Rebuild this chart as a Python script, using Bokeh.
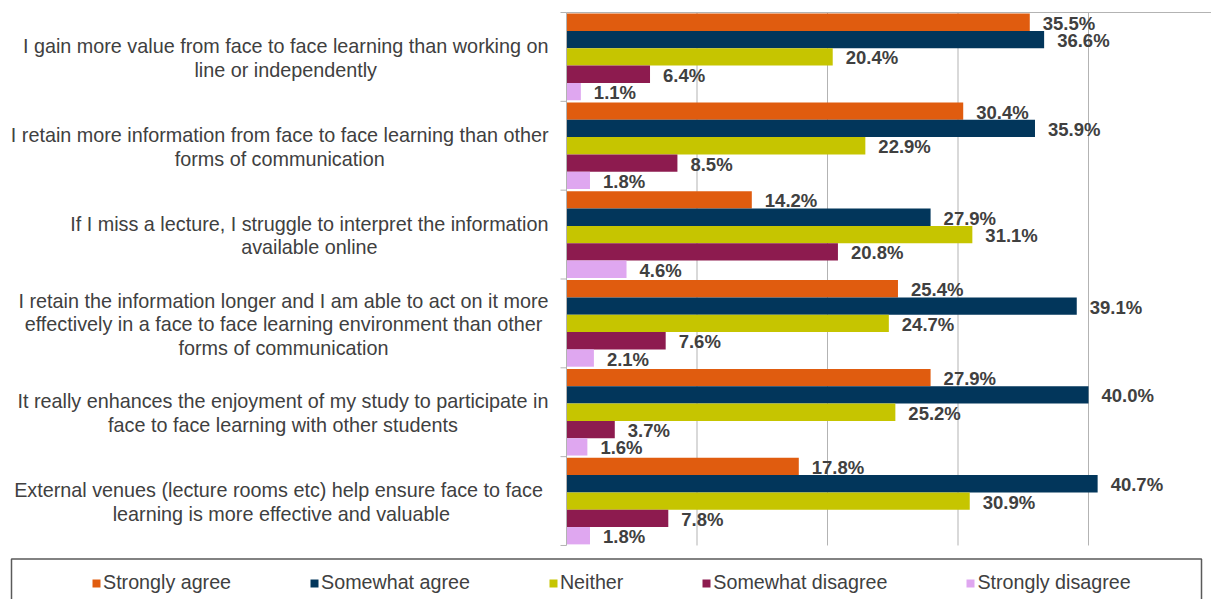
from bokeh.plotting import figure
from bokeh.models import Range1d, ColumnDataSource, Legend, LegendItem
from bokeh.core.properties import value
from bokeh.embed import file_html
from bokeh.resources import INLINE

# ---------------- data ----------------
categories = [
    "I gain more value from face to face learning than working on\nline or independently",
    "I retain more information from face to face learning than other\nforms of communication",
    "If I miss a lecture, I struggle to interpret the information\navailable online",
    "I retain the information longer and I am able to act on it more\neffectively in a face to face learning environment than other\nforms of communication",
    "It really enhances the enjoyment of my study to participate in\nface to face learning with other students",
    "External venues  (lecture rooms etc) help ensure face to face\nlearning is more effective and valuable",
]
series = ["Strongly agree", "Somewhat agree", "Neither", "Somewhat disagree", "Strongly disagree"]
strongly_agree = [35.5, 30.4, 14.2, 25.4, 27.9, 17.8]
somewhat_agree = [36.6, 35.9, 27.9, 39.1, 40.0, 40.7]
neither = [20.4, 22.9, 31.1, 24.7, 25.2, 30.9]
somewhat_disagree = [6.4, 8.5, 20.8, 7.6, 3.7, 7.8]
strongly_disagree = [1.1, 1.8, 4.6, 2.1, 1.6, 1.8]
series_values = [strongly_agree, somewhat_agree, neither, somewhat_disagree, strongly_disagree]
grid_values = [10, 20, 30, 40]
colors = ["#E05C0F", "#02365B", "#C6C500", "#8D1B4F", "#DFA7F0"]

FONT = "Liberation Sans"
TEXT_COLOR = "#404040"
GRID_COLOR = "#B3B3B3"

# ---------------- layout (pixels within the figure) ----------------
W, H = 1211, 599
AX0 = 566          # x pixel of the value axis (0 %)
PXU = 13.05        # pixels per 1 %
TOP = 12           # y pixel of the top of the first category band
BAND = 88.83       # pixels per category band

def px_x(px):
    return (px - AX0) / PXU

def px_y(px):
    return (px - TOP) / BAND - 0.5

n_cat = len(categories)
bar_h = 0.195

p = figure(width=W, height=H,
           x_range=Range1d(px_x(0), px_x(W)), y_range=Range1d(px_y(H), px_y(0)),
           x_axis_location=None, y_axis_location=None,
           output_backend="svg", toolbar_location=None, min_border=0)
p.outline_line_color = None
p.background_fill_color = "white"
p.border_fill_color = "white"
p.xgrid.visible = False
p.ygrid.visible = False

y_lo, y_hi = -0.5, n_cat - 0.5

# gridlines
p.segment(x0=grid_values, x1=grid_values, y0=[y_lo] * len(grid_values),
          y1=[y_hi] * len(grid_values), line_color=GRID_COLOR, line_width=1)
# top border line
p.segment(x0=[0], x1=[px_x(W)], y0=[y_lo], y1=[y_lo], line_color=GRID_COLOR, line_width=1)

# bars and value labels
renderers = []
for j, (name, vals, col) in enumerate(zip(series, series_values, colors)):
    ys = [i + (j - 2) * bar_h for i in range(n_cat)]
    src = ColumnDataSource(dict(y=ys, v=vals, lab=[f"{v:.1f}%" for v in vals]))
    r = p.hbar(y="y", right="v", left=0, height=bar_h, source=src,
               fill_color=col, line_color=None)
    renderers.append(r)
    p.text(x="v", y="y", text="lab", source=src, x_offset=13, y_offset=1,
           text_baseline="middle", text_align="left",
           text_font=value(FONT), text_font_style="bold",
           text_font_size="18.5px", text_color=TEXT_COLOR)

# category axis: line + boundary ticks
bounds = [i - 0.5 for i in range(n_cat + 1)]
p.segment(x0=[0], x1=[0], y0=[y_lo], y1=[y_hi], line_color=GRID_COLOR, line_width=1)
p.segment(x0=[0] * len(bounds), x1=[-6 / PXU] * len(bounds), y0=bounds, y1=bounds,
          line_color=GRID_COLOR, line_width=1)

# category labels (block right-aligned, lines centred)
p.text(x=[0] * n_cat, y=list(range(n_cat)), text=categories, x_offset=-18, y_offset=1,
       anchor="center_right", text_align="center", text_baseline="middle",
       text_line_height=1.08,
       text_font=value(FONT), text_font_size="19.8px", text_color=TEXT_COLOR)

# legend box (left, top and right sides; bottom lies below the window)
p.line(x=[px_x(11), px_x(11), px_x(1201), px_x(1201)],
       y=[px_y(H + 10), px_y(558.5), px_y(558.5), px_y(H + 10)],
       line_color="#5A5A5A", line_width=1.5)

items = [LegendItem(label=name, renderers=[r]) for name, r in zip(series, renderers)]
leg = Legend(items=items, orientation="horizontal", location=(91, 5),
             glyph_width=10, glyph_height=10, label_standoff=2, spacing=78,
             padding=0, margin=0, label_height=22,
             label_text_font=FONT, label_text_font_size="19.7px",
             label_text_color=TEXT_COLOR,
             border_line_alpha=0, background_fill_alpha=0)
p.add_layout(leg, "center")

open("out.html", "w").write(file_html(p, INLINE))
